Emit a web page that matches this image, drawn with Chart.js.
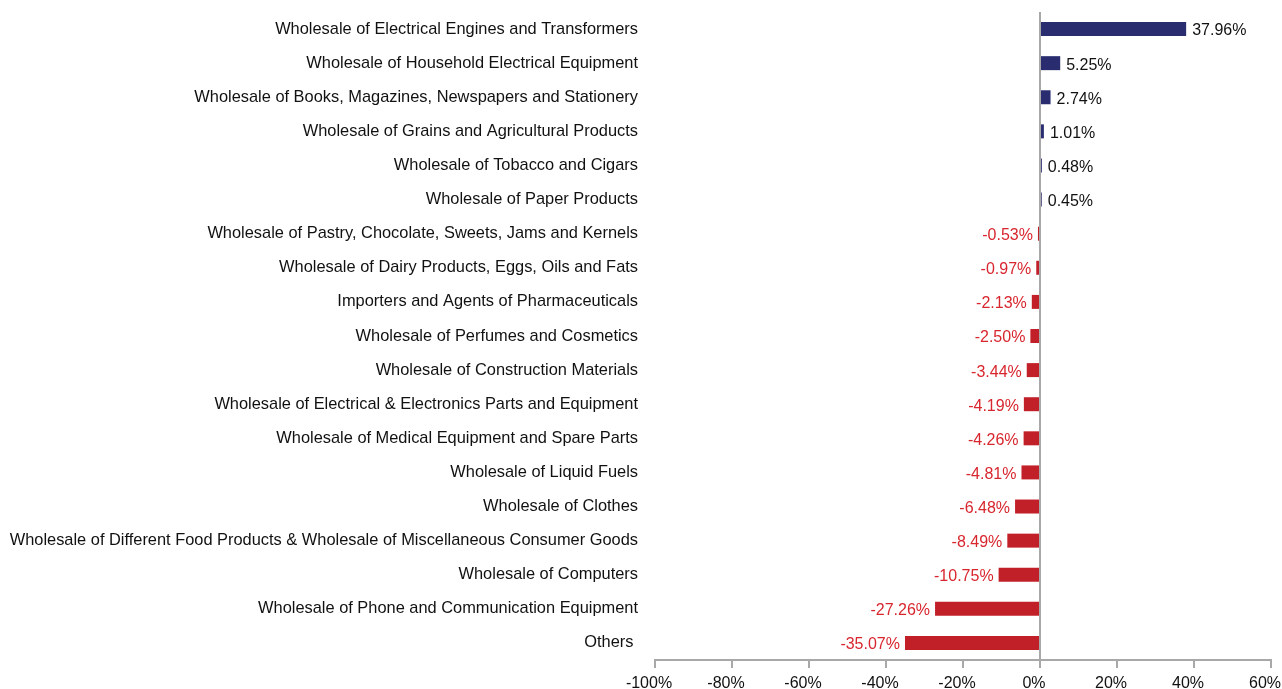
<!DOCTYPE html>
<html>
<head>
<meta charset="utf-8">
<script src="https://cdn.jsdelivr.net/npm/chart.js@4"></script>
<style>
  html, body { margin: 0; padding: 0; background: #fff; }
  #wrap { width: 1282px; height: 689px; position: relative; }
</style>
</head>
<body>
<div id="wrap"><canvas id="growthChart"></canvas></div>
<script>
// Data
const categories = [
    'Wholesale of Electrical Engines and Transformers',
    'Wholesale of Household Electrical Equipment',
    'Wholesale of Books, Magazines, Newspapers and Stationery',
    'Wholesale of Grains and Agricultural Products',
    'Wholesale of Tobacco and Cigars',
    'Wholesale of Paper Products',
    'Wholesale of Pastry, Chocolate, Sweets, Jams and Kernels',
    'Wholesale of Dairy Products, Eggs, Oils and Fats',
    'Importers and Agents of Pharmaceuticals',
    'Wholesale of Perfumes and Cosmetics',
    'Wholesale of Construction Materials',
    'Wholesale of Electrical & Electronics Parts and Equipment',
    'Wholesale of Medical Equipment and Spare Parts',
    'Wholesale of Liquid Fuels',
    'Wholesale of Clothes',
    'Wholesale of Different Food Products & Wholesale of Miscellaneous Consumer Goods',
    'Wholesale of Computers',
    'Wholesale of Phone and Communication Equipment',
    'Others '
];
const growth = [37.96, 5.25, 2.74, 1.01, 0.48, 0.45, -0.53, -0.97, -2.13, -2.50,
    -3.44, -4.19, -4.26, -4.81, -6.48, -8.49, -10.75, -27.26, -35.07];
const xTicks = [-100, -80, -60, -40, -20, 0, 20, 40, 60];

const BLUE = '#2a2c70';
const RED = '#c22029';
const LABEL_RED = '#d8262e';
const TEXT = '#111111';
const FONT = "'Liberation Sans', Arial, Helvetica, sans-serif";

// Value labels at the end of each bar
const barLabels = {
    id: 'barLabels',
    afterDatasetsDraw(chart) {
        const c = chart.ctx;
        const meta = chart.getDatasetMeta(0);
        c.save();
        c.font = '16px ' + FONT;
        c.textBaseline = 'middle';
        meta.data.forEach((bar, i) => {
            const v = growth[i];
            const txt = v.toFixed(2) + '%';
            if (v >= 0) {
                c.fillStyle = TEXT;
                c.textAlign = 'left';
                c.fillText(txt, bar.x + 6, bar.y + 2);
            } else {
                c.fillStyle = LABEL_RED;
                c.textAlign = 'right';
                c.fillText(txt, bar.x - 5, bar.y + 2);
            }
        });
        c.restore();
    }
};

const ctx = document.getElementById('growthChart').getContext('2d');

new Chart(ctx, {
    type: 'bar',
    data: {
        labels: categories,
        datasets: [{
            data: growth,
            backgroundColor: growth.map(v => v >= 0 ? BLUE : RED),
            barPercentage: 0.82,
            categoryPercentage: 0.5
        }]
    },
    options: {
        indexAxis: 'y',
        responsive: true,
        maintainAspectRatio: false,
        animation: false,
        layout: { padding: { top: 12, right: 11, left: 0, bottom: 0 } },
        plugins: {
            legend: { display: false },
            tooltip: { enabled: false }
        },
        scales: {
            x: {
                min: -100,
                max: 60,
                afterBuildTicks: scale => {
                    scale.ticks = xTicks.map(v => ({ value: v }));
                },
                afterFit: scale => {
                    scale.height = 29;
                    scale.paddingLeft = 0;
                    scale.paddingRight = 0;
                },
                border: { display: true, color: '#a8a8a8', width: 2 },
                grid: {
                    drawOnChartArea: true,
                    color: c => (c.tick && c.tick.value === 0) ? '#a8a8a8' : 'rgba(0,0,0,0)',
                    lineWidth: 2,
                    tickColor: '#a8a8a8',
                    tickLength: 8
                },
                ticks: {
                    color: TEXT,
                    font: { family: FONT, size: 16 },
                    padding: 6,
                    labelOffset: -6,
                    maxRotation: 0,
                    callback: v => v + '%'
                }
            },
            y: {
                afterFit: scale => {
                    scale.width = 655;
                    scale.paddingTop = 0;
                    scale.paddingBottom = 0;
                },
                border: { display: false },
                grid: { display: false, drawTicks: false },
                ticks: {
                    color: TEXT,
                    font: { family: FONT, size: 16.4 },
                    padding: 17,
                    autoSkip: false
                }
            }
        }
    },
    plugins: [barLabels]
});
</script>
</body>
</html>
